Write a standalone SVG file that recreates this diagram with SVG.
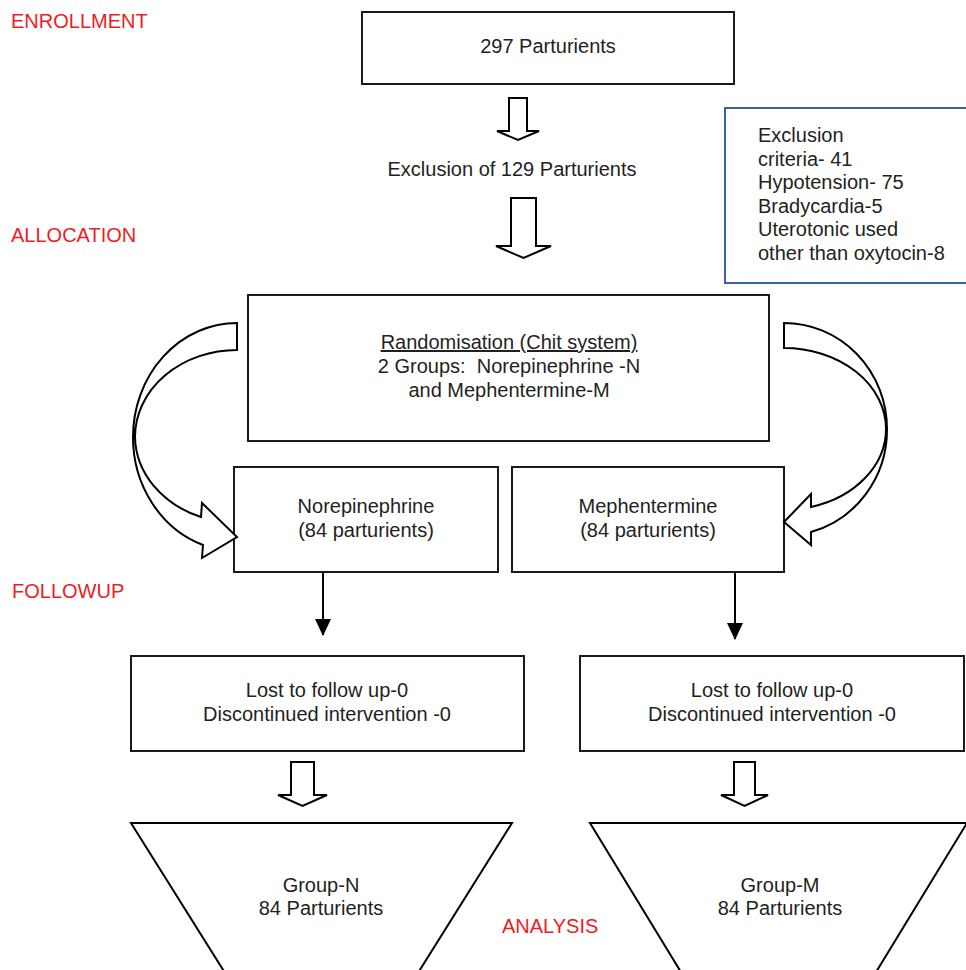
<svg xmlns="http://www.w3.org/2000/svg" width="966" height="970" viewBox="0 0 966 970">
<style>
text{font-family:"Liberation Sans",Arial,Helvetica,sans-serif;font-size:20px;fill:#231f20}
.c{text-anchor:middle}
.lbl{fill:#ee1c25}
.box{fill:#fff;stroke:#1a1a1a;stroke-width:2}
.blk{fill:#fff;stroke:#000;stroke-width:2;stroke-linejoin:miter}
.ln{stroke:#000;stroke-width:2;fill:none}
</style>
<defs>
<marker id="ah" markerWidth="17" markerHeight="16" refX="16" refY="8" orient="auto" markerUnits="userSpaceOnUse" viewBox="0 0 17 16">
<path d="M0,0 L17,8 L0,16 z" fill="#000"/>
</marker>
</defs>
<rect width="966" height="970" fill="#fff"/>

<g id="stage-labels">
<text class="lbl" x="11" y="28">ENROLLMENT</text>
<text class="lbl" x="11" y="242">ALLOCATION</text>
<text class="lbl" x="12" y="598">FOLLOWUP</text>
<text class="lbl" x="502" y="933">ANALYSIS</text>
</g>

<g id="enrolled">
<rect class="box" x="362" y="12" width="372" height="72"/>
<text class="c" x="548" y="53">297 Parturients</text>
</g>

<g id="excluded">
<text class="c" x="512" y="176">Exclusion of 129 Parturients</text>
</g>

<g id="exclusion-criteria">
<rect x="725" y="108" width="260" height="175" fill="#fff" stroke="#3b62a0" stroke-width="2"/>
<text x="758" y="142">Exclusion</text>
<text x="758" y="165.5">criteria- 41</text>
<text x="758" y="189">Hypotension- 75</text>
<text x="758" y="212.5">Bradycardia-5</text>
<text x="758" y="236">Uterotonic used</text>
<text x="758" y="259.5">other than oxytocin-8</text>
</g>

<g id="randomisation">
<rect class="box" x="248" y="295" width="521" height="146"/>
<text class="c" x="509" y="349" text-decoration="underline">Randomisation (Chit system)</text>
<text class="c" x="509" y="373">2 Groups:&#160; Norepinephrine -N</text>
<text class="c" x="509" y="397">and Mephentermine-M</text>
</g>

<g id="norepinephrine">
<rect class="box" x="234" y="467" width="264" height="105"/>
<text class="c" x="366" y="513">Norepinephrine</text>
<text class="c" x="366" y="537">(84 parturients)</text>
</g>

<g id="mephentermine">
<rect class="box" x="512" y="467" width="272" height="105"/>
<text class="c" x="648" y="513">Mephentermine</text>
<text class="c" x="648" y="537">(84 parturients)</text>
</g>

<g id="followup-n">
<rect class="box" x="131" y="656" width="393" height="95"/>
<text class="c" x="327" y="697">Lost to follow up-0</text>
<text class="c" x="327" y="721">Discontinued intervention -0</text>
</g>

<g id="followup-m">
<rect class="box" x="580" y="656" width="384" height="95"/>
<text class="c" x="772" y="697">Lost to follow up-0</text>
<text class="c" x="772" y="721">Discontinued intervention -0</text>
</g>

<g id="analysis-n">
<polygon class="blk" points="131,823 512,823 401,1000 242,1000"/>
<text class="c" x="321" y="892">Group-N</text>
<text class="c" x="321" y="915">84 Parturients</text>
</g>

<g id="analysis-m">
<polygon class="blk" points="590,823 967,823 859,1000 698,1000"/>
<text class="c" x="780" y="892">Group-M</text>
<text class="c" x="780" y="915">84 Parturients</text>
</g>

<g id="connectors">
<path class="blk" d="M509,98 H527 V131 H539 L518,140 L497,131 H509 Z"/>
<path class="blk" d="M511,198 H536 V246 H551 L523.5,258 L496,246 H511 Z"/>
<path class="blk" d="M291,762 H314 V795 H327 L302.5,806 L278,795 H291 Z"/>
<path class="blk" d="M734,762 H755 V795 H768 L744.5,806 L721,795 H734 Z"/>
<path class="blk" d="M237,323 A104,114 0 0 0 133,437 A104,114 0 0 0 203,545 L202,558 L237,537 L202,503 L201,517 A102,87 0 0 1 135,437 A102,87 0 0 1 237,350 Z"/>
<path class="blk" d="M784,323 A103,106 0 0 1 887,429 A103,106 0 0 1 811,532 L811,545 L784,522 L811,494 L811,507 A102,81 0 0 0 886,429 A102,81 0 0 0 784,348 Z"/>
<line class="ln" x1="323" y1="572" x2="323" y2="635" marker-end="url(#ah)"/>
<line class="ln" x1="735" y1="572" x2="735" y2="639" marker-end="url(#ah)"/>
</g>
</svg>
